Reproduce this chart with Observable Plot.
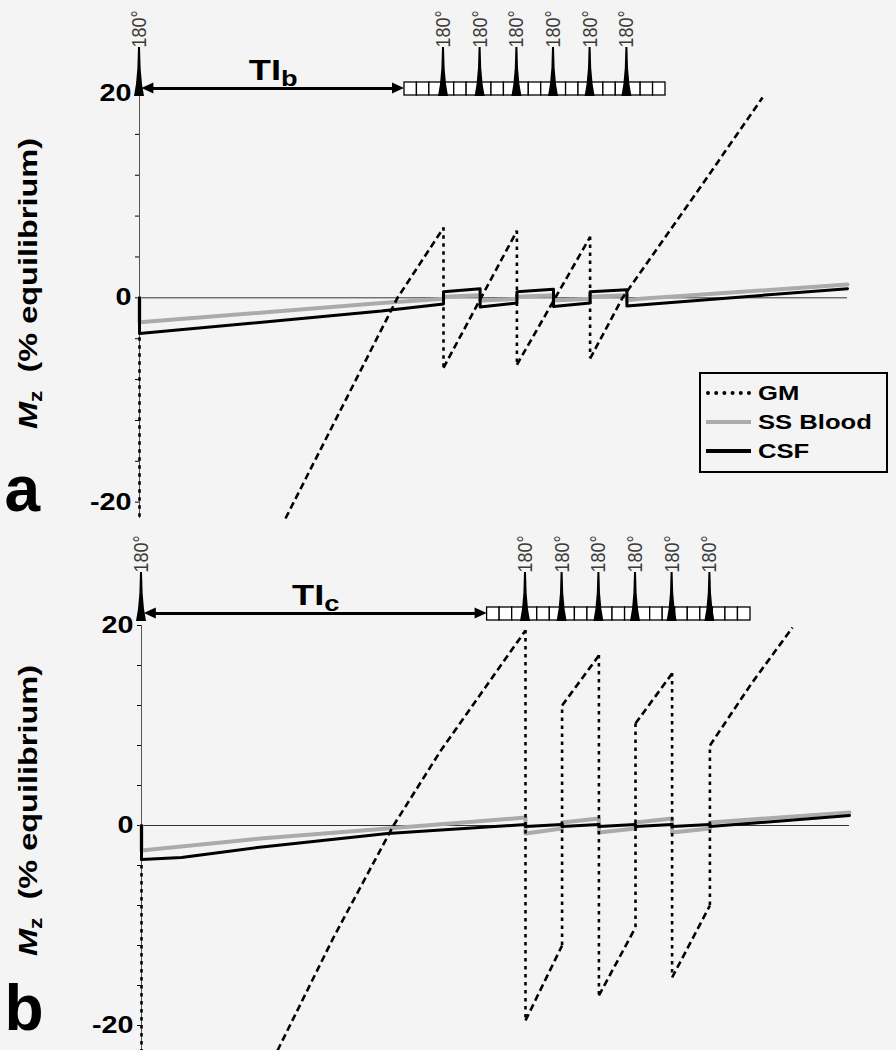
<!DOCTYPE html>
<html><head><meta charset="utf-8">
<script src="https://cdn.jsdelivr.net/npm/d3@7"></script>
<script src="https://cdn.jsdelivr.net/npm/@observablehq/plot@0.6"></script>
<style>
html,body{margin:0;padding:0;background:#f4f4f4;}
#wrap{width:896px;height:1050px;overflow:hidden;}
.panel{position:relative;width:896px;height:525px;}
.panel svg{position:absolute;left:0;top:0;overflow:visible;}
.legend{position:absolute;border:2px solid #000;box-sizing:border-box;font-family:'Liberation Sans',Arial,Helvetica,sans-serif;font-weight:bold;font-size:21px;color:#000;}
.legend .row{position:absolute;left:0;height:28px;display:flex;align-items:center;}
.legend .sw{display:inline-block;width:45px;margin-left:5px;margin-right:7px;}
.legend .tx{display:inline-block;transform:scaleX(1.22);transform-origin:left center;}
</style></head><body>
<div id="wrap"><div class="panel" id="pa"></div><div class="panel" id="pb"></div></div>
<script>
// ---------- shared ----------
const tDomain = [0, 3540];                 // ms after the first 180° pulse
const yTicks = [-20, -16, -12, -8, -4, 0, 4, 8, 12, 16, 20];
const yTickLabels = [-20, 0, 20];
const yTitle = "Mz (% equilibrium)";
const pulseLabel = "180°";
const readoutCells = 21;
const legendItems = ["GM", "SS Blood", "CSF"];

// ---------- panel a ----------
const pulsesA = [1520, 1703, 1887, 2070, 2253, 2437];
const readoutA = [1325, 2630];
const tiA = ["TI", "b"];
// GM recovery segments: [t, Mz, segment]
const gmRiseA = [
  [730, -21.6, 0], [1290, 0, 0], [1520, 6.85, 0],
  [1520, -6.85, 1], [1887, 6.55, 1],
  [1887, -6.55, 2], [2253, 5.95, 2],
  [2253, -5.95, 3], [2415, 0, 3], [2805, 10.85, 3], [3115, 19.6, 3]
];
// GM inversions: [t, before, after]
const gmDropA = [[0, 0, -21.6], [1520, 6.85, -6.85], [1887, 6.55, -6.55], [2253, 5.95, -5.95]];
const csfA = [
  [0, 0], [0, -3.5], [1210, -1.3], [1520, -0.6],
  [1520, 0.6], [1703, 0.9], [1703, -0.9], [1887, -0.5],
  [1887, 0.6], [2070, 0.85], [2070, -0.85], [2253, -0.5],
  [2253, 0.6], [2437, 0.8], [2437, -0.8], [3540, 0.9]
];
const bloodA = [
  [0, 0], [0, -2.4], [1210, -0.5], [1520, -0.1],
  [1520, 0.1], [1703, 0.25], [1703, -0.25], [1887, -0.1],
  [1887, 0.1], [2070, 0.25], [2070, -0.25], [2253, -0.1],
  [2253, 0.1], [2437, 0.25], [2437, -0.25], [2505, -0.1], [3540, 1.3]
];

// ---------- panel b ----------
const pulsesB = [1920, 2103, 2287, 2470, 2653, 2842];
const readoutB = [1728, 3045];
const tiB = ["TI", "c"];
const gmRiseB = [
  [680, -22.5, 0], [960, -11.2, 0], [1260, 0, 0], [1495, 7.45, 0], [1920, 19.5, 0],
  [1920, -19.5, 1], [2103, -12.0, 1],
  [2103, 12.0, 2], [2287, 17.0, 2],
  [2287, -17.0, 3], [2470, -10.2, 3],
  [2470, 10.2, 4], [2653, 15.2, 4],
  [2653, -15.2, 5], [2842, -8.0, 5],
  [2842, 8.0, 6], [3050, 14.2, 6], [3255, 19.8, 6]
];
const gmDropB = [[0, 0, -22.5], [1920, 19.5, -19.5], [2103, -12.0, 12.0], [2287, 17.0, -17.0],
  [2470, -10.2, 10.2], [2653, 15.2, -15.2], [2842, -8.0, 8.0]];
const csfB = [
  [0, 0], [0, -3.4], [200, -3.2], [580, -2.2], [1230, -0.8], [1920, 0.1],
  [1920, -0.1], [2103, 0.1], [2103, -0.1], [2287, 0.1], [2287, -0.1], [2470, 0.1],
  [2470, -0.1], [2653, 0.1], [2653, -0.1], [2842, 0.1], [2842, -0.1], [3540, 1.0]
];
const bloodB = [
  [0, 0], [0, -2.5], [595, -1.3], [1230, -0.3], [1920, 0.8],
  [1920, -0.8], [2103, -0.3], [2103, 0.3], [2287, 0.7], [2287, -0.7], [2470, -0.3],
  [2470, 0.3], [2653, 0.7], [2653, -0.7], [2842, -0.3], [2842, 0.3], [3540, 1.3]
];

// ---------- styles ----------
const FONT = "'Liberation Sans', Arial, Helvetica, sans-serif";
const lv = {boxTop: 82, boxBottom: 95, arrowY: 88, labelBase: 47, tiY: 70};
const spikeShape = [[47, 5], [68, 8], [84, 15], [96, 25]]; // [y px, half width ms]
const headLen = 60, headHalf = 5.5;

function stretch(el, sx, sy) {
  const tr = el.getAttribute("transform") || "";
  el.setAttribute("transform", tr + ` scale(${sx},${sy})`);
}

function mainPlot(c) {
  const svg = Plot.plot({
    width: 896, height: 525,
    marginLeft: c.ml, marginRight: c.mr, marginTop: c.mt, marginBottom: c.mb,
    x: {domain: tDomain, axis: null},
    y: {domain: c.yDomain, ticks: yTicks, tickSize: 4, tickPadding: 4,
        tickFormat: d => yTickLabels.includes(d) ? String(d) : "", label: null},
    style: {background: "transparent", fontFamily: FONT, fontWeight: "bold", fontSize: "23px", color: "#000", overflow: "visible"},
    marks: [
      Plot.ruleY([0], {stroke: "#333", strokeWidth: 1}),
      Plot.ruleX([0], {stroke: "#555", strokeWidth: 1}),
      Plot.line(c.blood, {x: d => d[0], y: d => d[1], stroke: "#ababab", strokeWidth: 4}),
      Plot.line(c.csf, {x: d => d[0], y: d => d[1], stroke: "#000", strokeWidth: 3}),
      Plot.ruleX(c.gmDrop, {x: d => d[0], y1: d => d[1], y2: d => d[2], stroke: "#000", strokeWidth: 2.6, strokeDasharray: "3.5,4.5"}),
      Plot.line(c.gmRise, {x: d => d[0], y: d => d[1], z: d => d[2], stroke: "#000", strokeWidth: 2.6, strokeDasharray: "7,4", strokeLinecap: "butt"}),
      Plot.text([yTitle], {frameAnchor: "left", textAnchor: "middle", lineAnchor: "middle", dx: c.titleDx, dy: c.titleDy, rotate: -90, fontSize: 25, fontWeight: "bold", fill: "#000"}),
      Plot.text([c.letter], {frameAnchor: "bottom-left", textAnchor: "start", lineAnchor: "bottom", dx: c.letterDx, dy: c.letterDy, fontSize: 64, fontWeight: "bold", fill: "#000"})
    ]
  });
  const labels = yTickLabels.map(String);
  d3.select(svg).selectAll("text").each(function() {
    if (this.textContent === yTitle) {
      const t = d3.select(this); t.text("");
      t.append("tspan").attr("font-style", "italic").text(yTitle[0]);
      t.append("tspan").attr("font-size", "0.7em").attr("dy", "0.3em").text(yTitle[1]);
      t.append("tspan").attr("dy", "-0.21em").text(yTitle.slice(2).replace(" ", "\u00a0 "));
      stretch(this, 1.3, 1);
    } else if (labels.includes(this.textContent)) {
      stretch(this, 1.25, 1);
    }
  });
  return svg;
}

function schematic(c) {
  const pulses = [0, ...c.pulses];
  const spikes = pulses.flatMap((t, i) => spikeShape.map(([y, hw]) => ({i, y, x1: t - hw, x2: t + hw})));
  const [b0, b1] = c.readout;
  const cw = (b1 - b0) / readoutCells;
  const cells = d3.range(readoutCells).map(k => ({x1: b0 + k * cw, x2: b0 + (k + 1) * cw}));
  const a0 = c.arrowStart, a1 = b0;
  const Y = lv.arrowY;
  const heads = [
    {h: 0, y: Y - headHalf, x1: a0 + headLen, x2: a0 + headLen},
    {h: 0, y: Y, x1: a0, x2: a0 + headLen},
    {h: 0, y: Y + headHalf, x1: a0 + headLen, x2: a0 + headLen},
    {h: 1, y: Y - headHalf, x1: a1 - headLen, x2: a1 - headLen},
    {h: 1, y: Y, x1: a1 - headLen, x2: a1},
    {h: 1, y: Y + headHalf, x1: a1 - headLen, x2: a1 - headLen}
  ];
  const tiText = c.ti.join("");
  const svg = Plot.plot({
    width: 896, height: 110,
    marginLeft: c.ml, marginRight: c.mr, marginTop: 0, marginBottom: 0,
    x: {domain: tDomain, axis: null},
    y: {domain: [110, 0], axis: null},
    style: {background: "transparent", fontFamily: FONT, overflow: "visible"},
    marks: [
      Plot.rect(cells, {x1: "x1", x2: "x2", y1: lv.boxTop, y2: lv.boxBottom, fill: "#fff", stroke: "#000", strokeWidth: 1.3}),
      Plot.areaX(spikes, {x1: "x1", x2: "x2", y: "y", z: "i", fill: "#000", curve: "linear"}),
      Plot.ruleY([Y], {x1: a0 + headLen * 0.5, x2: a1 - headLen * 0.5, stroke: "#000", strokeWidth: 2.8}),
      Plot.areaX(heads, {x1: "x1", x2: "x2", y: "y", z: "h", fill: "#000", curve: "linear"}),
      Plot.text(pulses, {x: d => d, y: lv.labelBase, text: () => pulseLabel, rotate: -90, textAnchor: "start", lineAnchor: "middle", fontSize: 18, fontWeight: "normal", fill: "#3a3a3a"}),
      Plot.text([tiText], {x: (a0 + a1) / 2, y: lv.tiY, fontSize: 29, fontWeight: "bold", fill: "#000"})
    ]
  });
  d3.select(svg).selectAll("text").each(function() {
    if (this.textContent === tiText) {
      const t = d3.select(this); t.text("");
      t.append("tspan").text(c.ti[0]);
      t.append("tspan").attr("font-size", "0.75em").attr("dy", "0.3em").text(c.ti[1]);
      stretch(this, 1.25, 1);
    } else if (this.textContent === pulseLabel) {
      stretch(this, 1, 1.12);
    }
  });
  return svg;
}

function legend(host, left, top) {
  const box = document.createElement("div");
  box.className = "legend";
  Object.assign(box.style, {left: left + "px", top: top + "px", width: "189px", height: "101px"});
  const styles = ["4px dotted #000", "4px solid #ababab", "4px solid #000"];
  legendItems.forEach((name, i) => {
    const row = document.createElement("div");
    row.className = "row";
    row.style.top = (5 + i * 29) + "px";
    const sw = document.createElement("span");
    sw.className = "sw";
    sw.style.borderTop = styles[i];
    const tx = document.createElement("span");
    tx.className = "tx";
    tx.textContent = name;
    row.appendChild(sw); row.appendChild(tx);
    box.appendChild(row);
  });
  host.appendChild(box);
}

const pa = document.getElementById("pa");
pa.appendChild(mainPlot({ml: 139, mr: 49, mt: 93, mb: 7, yDomain: [-21.6, 20],
  blood: bloodA, csf: csfA, gmDrop: gmDropA, gmRise: gmRiseA,
  titleDx: -111, titleDy: -22.5, letter: "a", letterDx: -135, letterDy: -8}));
pa.appendChild(schematic({ml: 139, mr: 49, pulses: pulsesA, readout: readoutA, arrowStart: 12, ti: tiA}));
legend(pa, 699, 372);

const pb = document.getElementById("pb");
pb.appendChild(mainPlot({ml: 141, mr: 47, mt: 100, mb: 0, yDomain: [-22.5, 20],
  blood: bloodB, csf: csfB, gmDrop: gmDropB, gmRise: gmRiseB,
  titleDx: -113, titleDy: -27.5, letter: "b", letterDx: -137, letterDy: -21}));
pb.appendChild(schematic({ml: 141, mr: 47, pulses: pulsesB, readout: readoutB, arrowStart: 14, ti: tiB}));
</script></body></html>
